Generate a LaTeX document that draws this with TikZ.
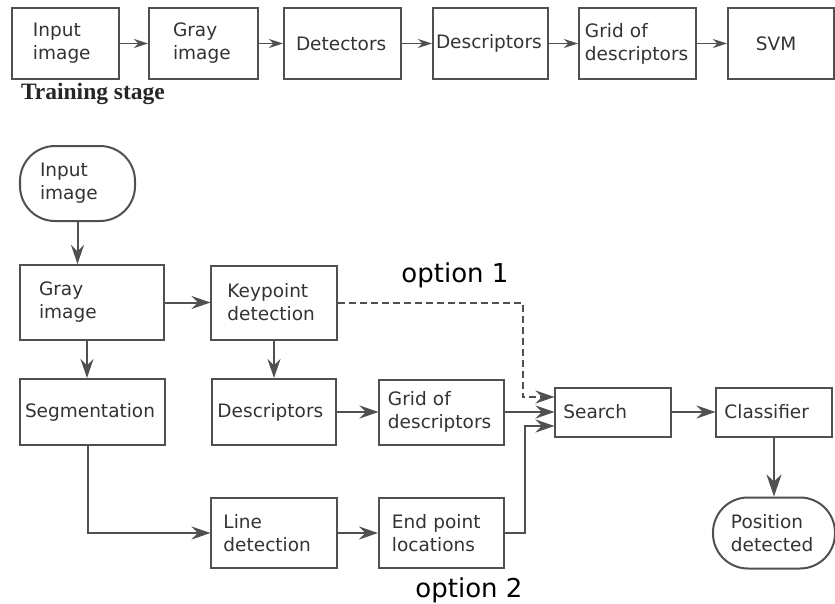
\documentclass[tikz,border=0pt]{standalone}
\usepackage{fontspec}
\setmainfont{Liberation Serif}
\setsansfont{DejaVu Sans}
\usepackage{xcolor}
\usetikzlibrary{arrows.meta}
\definecolor{linegray}{HTML}{505050}
\definecolor{textgray}{HTML}{333333}
\tikzset{
  box/.style n args={3}{draw=linegray, line width=2pt, rectangle, align=left,
    text width=#1, inner xsep=#2, inner ysep=0pt, minimum height=#3, text=textgray,
    font=\sffamily\fontsize{18.5}{23}\selectfont},
  stad/.style n args={3}{box={#1}{#2}{#3}, rounded corners=35pt},
  small arrow/.style={-{Stealth[length=14pt, width=9pt, inset=4.5pt]}, line width=1.6pt}
}

\begin{document}
\begin{tikzpicture}[x=1pt, y=-1pt, draw=linegray, line width=2pt,
    >={Stealth[length=19pt, width=13pt, inset=6.5pt]}]
    \useasboundingbox (0,0) rectangle (835,604);

        \matrix (stage) [matrix anchor=tin.west, column sep=24pt] at (11,43.5) {
        \node[box={65pt}{21pt}{71pt}] (tin) {Input\\image}; &[4pt]
        \node[box={61pt}{24pt}{71pt}] (tgray) {Gray\\image}; &
        \node[box={93pt}{12pt}{71pt}] (tdet) {Detectors}; &[6pt]
        \node[box={109pt}{3pt}{71pt}] (tdesc) {Descriptors}; &[5pt]
        \node[box={105pt}{6pt}{71pt}] (tgrid) {Grid of\\descriptors}; &[6pt]
        \node[box={50pt}{28pt}{71pt}] (tsvm) {SVM}; \\
    };
    \node[anchor=base west, inner sep=0pt, text=black!85,
      font=\bfseries\fontsize{23.5}{28}\selectfont] (training) at (20,100) {Training stage};

        \matrix (flow) [matrix anchor=seg.west, column sep=40.5pt, row sep=37pt,
          column 1/.style={anchor=west}] at (19,412) {
        \node[stad={75pt}{20pt}{75pt}] (in) {Input\\image}; &[4pt] & &[9pt] & \\[5pt]
        \node[box={106pt}{19pt}{75pt}] (gray) {Gray\\image}; &[4pt]
        \node[box={93pt}{16pt}{74pt}] (kp) {Keypoint\\detection}; & &[9pt] & \\
        \node[box={135pt}{5pt}{66pt}] (seg) {Segmentation}; &[4pt]
        \node[box={113pt}{5pt}{66pt}] (desc) {Descriptors}; &
        \node[box={107pt}{8.5pt}{65pt}] (grid) {Grid of\\descriptors}; &[9pt]
        \node[box={99pt}{8pt}{49pt}] (search) {Search}; &
        \node[box={99pt}{8pt}{49pt}] (cls) {Classifier}; \\[13.5pt]
        &[4pt]
        \node[box={101pt}{12pt}{70pt}] (line) {Line\\detection}; &
        \node[box={99pt}{13pt}{70pt}] (end) {End point\\locations}; &[9pt] &
        \node[stad={86pt}{18pt}{71pt}] (pos) {Position\\detected}; \\
    };

    \node[anchor=base, inner sep=0pt, font=\sffamily\fontsize{26}{30}\selectfont] (opt1) at (455,282) {option 1};
    \node[anchor=base, inner sep=0pt, font=\sffamily\fontsize{26}{30}\selectfont] (opt2) at (469,597) {option 2};

    \draw[small arrow] (tin) -- (tgray);
    \draw[small arrow] (tgray) -- (tdet);
    \draw[small arrow] (tdet) -- (tdesc);
    \draw[small arrow] (tdesc) -- (tgrid);
    \draw[small arrow] (tgrid) -- (tsvm);

    \draw[->] (in.south) -- (in.south |- gray.north);
    \draw[->] (gray) -- (kp);
    \draw[->] ([xshift=-5pt]gray.south) -- ([xshift=-5pt]gray.south |- seg.north);
    \draw[->] (kp) -- (desc);
    \draw[->] ([xshift=-5pt]seg.south) |- (line);
    \draw[->] (desc) -- (grid);
    \draw[->] (line) -- (end);
    \draw[->, dash pattern=on 7pt off 4pt] (kp) -| ([xshift=-32pt, yshift=15pt]search.west) -- ([yshift=15pt]search.west);
    \draw[->] (grid) -- (search);
    \draw[->] (end) -| ([xshift=-30pt, yshift=-14pt]search.west) -- ([yshift=-14pt]search.west);
    \draw[->] (search) -- (cls);
    \draw[-{Stealth[length=22pt, width=15pt, inset=7pt]}] (cls) -- (pos);
        \end{tikzpicture}
\end{document}
